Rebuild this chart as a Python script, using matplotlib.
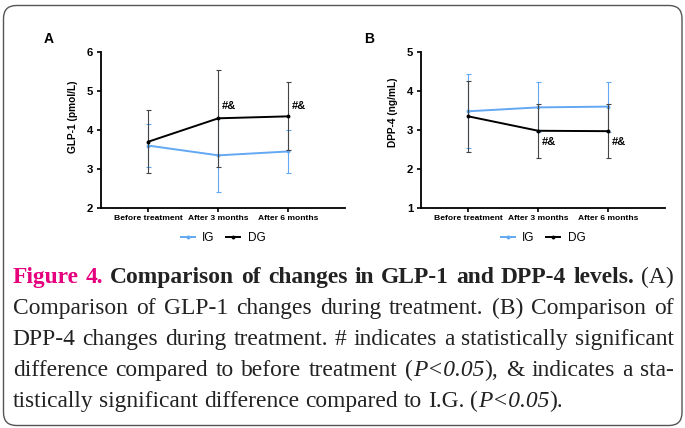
import matplotlib
matplotlib.use("Agg")
import matplotlib.pyplot as plt
from matplotlib.patches import FancyBboxPatch
from matplotlib.lines import Line2D
from matplotlib.transforms import IdentityTransform

W, H = 685, 428

# data
timepoints = ["Before treatment", "After 3 months", "After 6 months"]

glp_ig = [3.60, 3.35, 3.45]
glp_ig_sd = [0.55, 0.95, 0.55]
glp_dg = [3.70, 4.30, 4.35]
glp_dg_sd = [0.81, 1.25, 0.87]

dpp_ig = [3.48, 3.58, 3.60]
dpp_ig_sd = [0.95, 0.64, 0.64]
dpp_dg = [3.35, 2.98, 2.97]
dpp_dg_sd = [0.91, 0.69, 0.70]

glp_marks = [(1, 4.61, "#&"), (2, 4.61, "#&")]
dpp_marks = [(1, 2.68, "#&"), (2, 2.68, "#&")]

blue = "#62a8f2"
sans = "Liberation Sans"
serif = "Liberation Serif"

fig = plt.figure(figsize=(W / 100, H / 100), dpi=100)


def px_axes(left, top, right, bottom):
    return fig.add_axes([left / W, 1 - bottom / H, (right - left) / W, (bottom - top) / H])


def panel(ax, ig, ig_sd, dg, dg_sd, ylim, ylabel, label_y, marks):
    x = list(range(len(timepoints)))
    ax.errorbar(x, ig, yerr=ig_sd, color=blue, lw=1.4, marker="o", ms=1.8,
                ecolor=blue, elinewidth=0.8, capsize=1.8, capthick=0.8, zorder=2)
    ax.errorbar(x, dg, yerr=dg_sd, color="black", lw=1.4, marker="o", ms=1.8,
                ecolor="#444444", elinewidth=0.8, capsize=1.8, capthick=0.8, zorder=3)
    ax.set_xlim(-0.676, 2.81)
    ax.set_ylim(*ylim)
    ax.set_yticks(range(ylim[0], ylim[1] + 1))
    ax.set_xticks(x)
    ax.set_xticklabels(timepoints, fontsize=6.1, fontweight="bold", family=sans)
    for t in ax.get_yticklabels():
        t.set_fontsize(8.2)
        t.set_fontweight("bold")
        t.set_family(sans)
    ax.set_ylabel(ylabel, fontsize=7.3, fontweight="bold", family=sans)
    ax.yaxis.set_label_coords(-0.094, label_y)
    for s in ["top", "right"]:
        ax.spines[s].set_visible(False)
    for s in ["left", "bottom"]:
        ax.spines[s].set_linewidth(1.3)
    ax.tick_params(length=3, width=1.2)
    ax.tick_params(axis="y", pad=2.5)
    ax.tick_params(axis="x", pad=2)
    for xi, yi, txt in marks:
        ax.text(xi + 0.05, yi, txt, fontsize=8, fontweight="bold", family=sans,
                ha="left", va="center")
    handles = [Line2D([], [], color=blue, lw=1.4, marker="o", ms=1.8),
               Line2D([], [], color="black", lw=1.4, marker="o", ms=1.8)]
    ax.legend(handles, ["IG", "DG"], ncol=2, frameon=False, loc="center",
              bbox_to_anchor=(0.5, -0.19), prop={"family": sans, "size": 8.5},
              handlelength=1.2, handletextpad=0.6, columnspacing=1.0)


axA = px_axes(101, 52, 345, 208)
panel(axA, glp_ig, glp_ig_sd, glp_dg, glp_dg_sd, (2, 6), "GLP-1 (pmol/L)", 0.583, glp_marks)
axB = px_axes(421, 52, 665, 208)
panel(axB, dpp_ig, dpp_ig_sd, dpp_dg, dpp_dg_sd, (1, 5), "DPP-4 (ng/mL)", 0.612, dpp_marks)

fig.text(49 / W, 1 - 39 / H, "A", fontsize=10, fontweight="bold", family=sans,
         ha="center", va="center")
fig.text(369 / W, 1 - 39 / H, "B", fontsize=10, fontweight="bold", family=sans,
         ha="center", va="center")

# rounded frame around the figure
frame = FancyBboxPatch((3.5, 2.5), 678.5, 420, boxstyle="round,pad=0,rounding_size=13",
                       transform=IdentityTransform(), fill=False, ec="#555555", lw=1.0)
fig.patches.append(frame)

# caption, justified by hand
R = {"weight": "normal", "style": "normal", "color": "#222222"}
B = {"weight": "bold", "style": "normal", "color": "#222222"}
M = {"weight": "bold", "style": "normal", "color": "#e6007e"}
I = {"weight": "normal", "style": "italic", "color": "#222222"}


def words(text, st):
    return [[(w, st)] for w in text.split()]


lines = [
    words("Figure 4.", M) + words("Comparison of changes in GLP-1 and DPP-4 levels.", B) + words("(A)", R),
    words("Comparison of GLP-1 changes during treatment. (B) Comparison of", R),
    words("DPP-4 changes during treatment. # indicates a statistically significant", R),
    words("difference compared to before treatment", R) + [[("(", R), ("P<0.05", I), ("),", R)]]
    + words("& indicates a sta-", R),
    words("tistically significant difference compared to I.G.", R) + [[("(", R), ("P<0.05", I), (").", R)]],
]
baselines = [283.3, 314.2, 345.0, 375.8, 406.7]
x0, x1 = 12.7, 674.0
fsize = 16.9

fig.canvas.draw()
renderer = fig.canvas.get_renderer()


def run_width(txt, st):
    t = fig.text(0, 0, txt, fontsize=fsize, family=serif, fontweight=st["weight"],
                 fontstyle=st["style"])
    w = t.get_window_extent(renderer).width
    t.remove()
    return w


space = run_width("a b", R) - run_width("ab", R)
for i, (line, base) in enumerate(zip(lines, baselines)):
    widths = [[run_width(t, st) for t, st in wd] for wd in line]
    total = sum(sum(w) for w in widths)
    gap = space if i == len(lines) - 1 else (x1 - x0 - total) / (len(line) - 1)
    x = x0
    for wd, ws in zip(line, widths):
        for (t, st), w in zip(wd, ws):
            fig.text(x / W, 1 - base / H, t, fontsize=fsize, family=serif,
                     fontweight=st["weight"], fontstyle=st["style"], color=st["color"],
                     ha="left", va="baseline")
            x += w
        x += gap

fig.savefig("out.png", dpi=100)
